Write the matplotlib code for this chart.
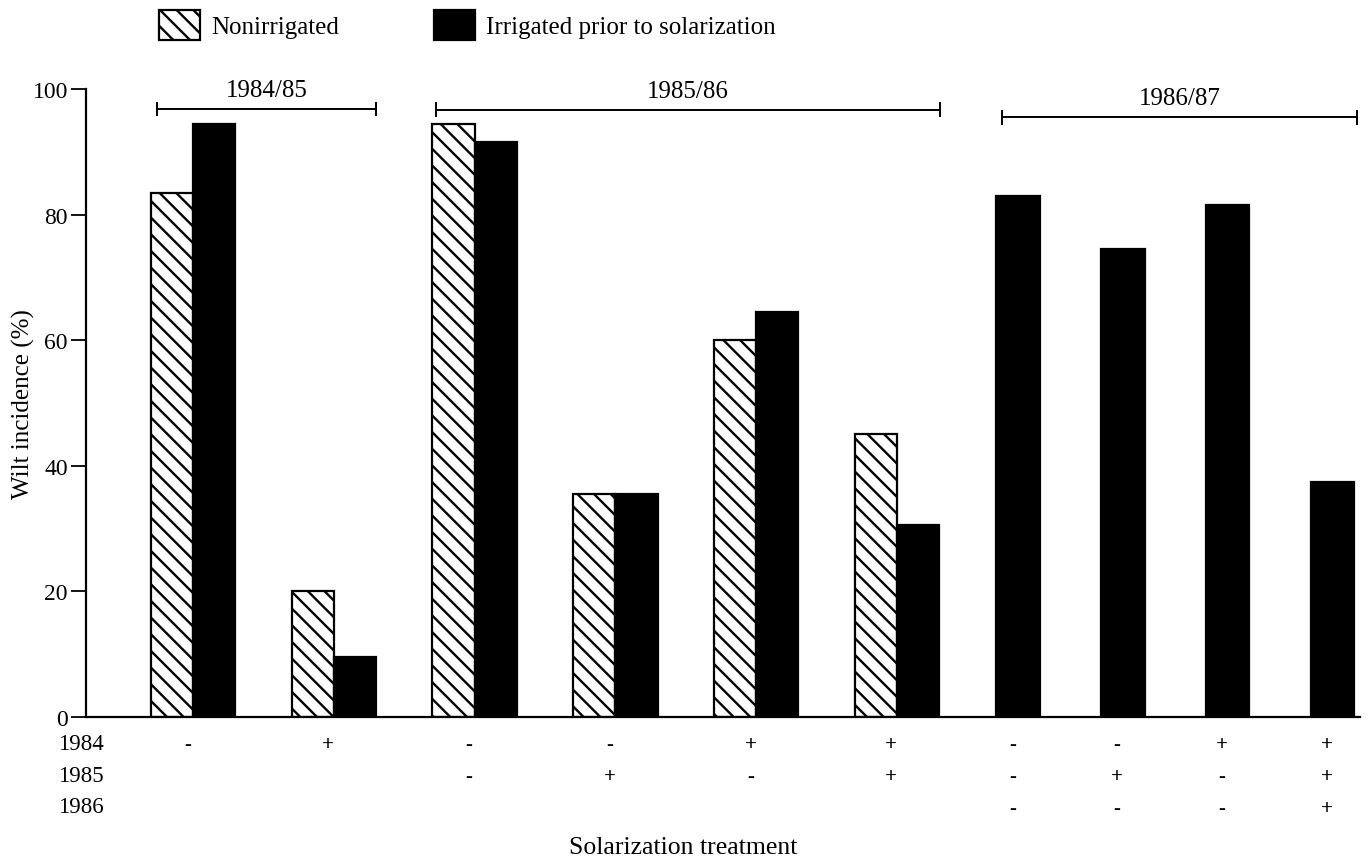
import numpy as np
import matplotlib
matplotlib.use("Agg")
import matplotlib.pyplot as plt

plt.rcParams["font.family"] = ["Liberation Serif", "DejaVu Serif"]
plt.rcParams["hatch.linewidth"] = 1.7

# Wilt incidence (%) per solarization treatment
seasons = ["1984/85", "1985/86", "1986/87"]
nonirrigated = [83.5, 20, 94.5, 35.5, 60, 45]
irrigated = [94.5, 9.5, 91.5, 35.5, 64.5, 30.5, 83, 74.5, 81.5, 37.5]
treat_1984 = ["-", "+", "-", "-", "+", "+", "-", "-", "+", "+"]
treat_1985 = ["", "", "-", "+", "-", "+", "-", "+", "-", "+"]
treat_1986 = ["", "", "", "", "", "", "-", "-", "-", "+"]
row_years = ["1984", "1985", "1986"]
yticks = [0, 20, 40, 60, 80, 100]

W, H = 1372, 862
fig = plt.figure(figsize=(W / 100, H / 100), dpi=100)
ax = fig.add_axes([86 / W, 1 - 718 / H, (1360 - 86) / W, 628 / H])

# layout: paired treatments first, then the single-bar season
n_pair = len(nonirrigated)
pair_x = np.arange(n_pair, dtype=float)
single_x = 5.86 + 0.745 * np.arange(len(irrigated) - n_pair)
centers = np.concatenate([pair_x, single_x])
bw = 0.30

b_non = ax.bar(pair_x - bw / 2, nonirrigated, width=bw, color="white",
               edgecolor="black", hatch="\\\\", linewidth=1.6,
               label="Nonirrigated")
b_irr = ax.bar(np.concatenate([pair_x + bw / 2, single_x]), irrigated,
               width=[bw] * n_pair + [0.31] * len(single_x),
               color="black", edgecolor="black", linewidth=1.6,
               label="Irrigated prior to solarization")

ax.set_xlim(-0.76, 8.29)
ax.set_ylim(0, 100)
ax.set_yticks(yticks)
ax.set_xticks([])
for s in ("top", "right"):
    ax.spines[s].set_visible(False)
ax.spines["left"].set_linewidth(1.6)
ax.spines["bottom"].set_linewidth(1.6)
ax.tick_params(axis="y", direction="out", length=11, width=1.3, pad=2,
               labelsize=17)
ax.set_ylabel("Wilt incidence (%)", fontsize=18)
ax.yaxis.set_label_coords(-0.040, 0.5)

# season brackets
spans = [(-0.256, 1.30, 96.8), (1.726, 5.305, 96.7), (5.75, 8.27, 95.5)]
for name, (x0, x1, y) in zip(seasons, spans):
    ax.plot([x0, x1], [y, y], color="black", lw=1.4, clip_on=False)
    for xe in (x0, x1):
        ax.plot([xe, xe], [y - 1.0, y + 1.0], color="black", lw=1.4,
                clip_on=False)
    ax.text((x0 + x1) / 2, y + 1.3, name, ha="center", va="bottom",
            fontsize=18)

# treatment sign rows
tr = ax.get_xaxis_transform()
row_y = [-0.043, -0.094, -0.145]
for signs, yy in zip([treat_1984, treat_1985, treat_1986], row_y):
    for xc, s in zip(centers, signs):
        if s:
            ax.text(xc - 0.04, yy, s, transform=tr, ha="center",
                    va="center", fontsize=15, fontweight="bold")
for name, yy in zip(row_years, [745, 777, 808]):
    fig.text(58 / W, 1 - yy / H, name, ha="left", va="center", fontsize=16.5)

fig.text(683 / W, 1 - 848 / H, "Solarization treatment", ha="center",
         va="center", fontsize=18.5)

fig.legend(handles=[b_non, b_irr], loc="center left",
           bbox_to_anchor=(159 / W, 1 - 26 / H), ncol=2, frameon=False,
           fontsize=18, handlelength=1.64, handleheight=1.52,
           handletextpad=0.45, columnspacing=3.8, borderaxespad=0,
           borderpad=0)

fig.savefig("out.png", dpi=100)
